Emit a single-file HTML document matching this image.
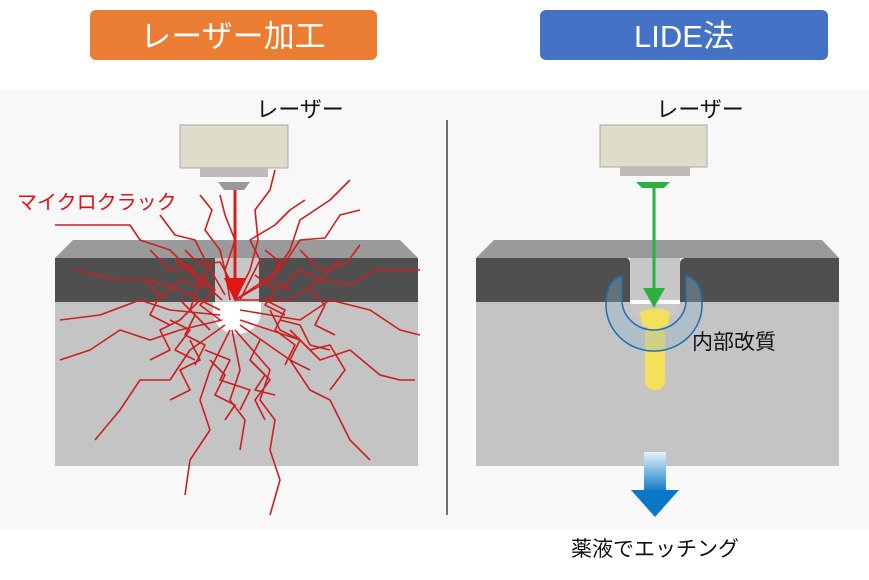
<!DOCTYPE html>
<html><head><meta charset="utf-8"><style>
body{margin:0;width:869px;height:580px;background:#fff;overflow:hidden;font-family:"Liberation Sans","Noto Sans CJK JP",sans-serif}
</style></head><body>
<svg width="869" height="580" viewBox="0 0 869 580" xmlns="http://www.w3.org/2000/svg" style="position:absolute;left:0;top:0">
<defs>
<linearGradient id="ba" x1="0" y1="0" x2="0" y2="1"><stop offset="0" stop-color="#e6f2fb"/><stop offset="1" stop-color="#0a78c8"/></linearGradient>
</defs>
<rect x="0" y="90" width="869" height="440" fill="#f8f8f8"/>
<!-- titles -->
<rect x="90" y="10" width="287" height="50" rx="6" fill="#ea7d32"/>
<text x="233" y="47" font-size="31" fill="#fff" text-anchor="middle">レーザー加工</text>
<rect x="540" y="10" width="288" height="50" rx="6" fill="#4472c4"/>
<text x="684" y="47" font-size="31" fill="#fff" text-anchor="middle">LIDE法</text>
<line x1="447" y1="120" x2="447" y2="515" stroke="#444" stroke-width="1.5"/>

<!-- LEFT block -->
<polygon points="73,240 400,240 418,258 55,258" fill="#9a9a9a"/>
<rect x="55" y="258" width="363" height="44" fill="#4f4f4f"/>
<rect x="55" y="302" width="363" height="164" fill="#c4c4c4"/>
<rect x="215" y="258" width="44" height="48" fill="#c8c8c8"/>
<path d="M213,302 L261,302 L261,312 A24,22 0 0 1 213,312 Z" fill="#fff"/>
<rect x="180" y="125" width="108" height="43" fill="#e0dccb" stroke="#aaa"/>
<rect x="200" y="168" width="68" height="9" fill="#bcbcbc"/>
<path d="M218,182 L250,182 L244,190 L224,190 Z" fill="#999"/>
<text x="300" y="117" font-size="22" fill="#111" text-anchor="middle">レーザー</text>
<text x="17" y="209" font-size="20" fill="#e01010">マイクロクラック</text>
<g fill="none" stroke="#cc1f1f" stroke-width="1.6" stroke-linejoin="round">
<polyline points="235,300 250,270 258,240 255,210 270,190 275,170"/>
<polyline points="235,300 270,280 290,250 300,220 330,200 350,180"/>
<polyline points="235,300 280,270 300,240 325,238 340,215 360,210"/>
<polyline points="235,300 290,300 320,280 350,285 375,270 420,270"/>
<polyline points="240,310 300,320 330,300 370,310 400,330 420,335"/>
<polyline points="240,320 300,340 320,360 350,350 380,375 400,380 415,380"/>
<polyline points="240,325 290,360 310,390 330,400 350,440 370,460"/>
<polyline points="235,330 270,370 260,400 275,420 270,450 280,480 270,515"/>
<polyline points="232,330 240,370 230,400 245,420 240,450"/>
<polyline points="230,330 210,370 200,400 210,430 190,460 185,495"/>
<polyline points="225,325 190,350 170,380 140,380 120,410 95,440"/>
<polyline points="222,320 180,330 150,340 120,330 90,350 60,360"/>
<polyline points="220,315 170,310 140,300 100,315 60,320"/>
<polyline points="220,310 180,290 150,280 120,280 95,275 75,270"/>
<polyline points="222,300 190,270 170,250 140,240 130,225 55,225"/>
<polyline points="225,295 205,260 195,240 175,235 160,215"/>
<polyline points="230,290 220,250 205,230 212,210 200,195"/>
<polyline points="230,300 225,270 235,240 225,215 220,195"/>
<polyline points="240,300 260,260 250,240 275,225 290,210 305,200"/>
<polyline points="200,300 180,320 160,330 170,350 150,360"/>
<polyline points="270,310 280,330 300,340 290,360 310,370"/>
<polyline points="190,340 200,360 180,370 190,390 170,400"/>
<polyline points="260,340 250,360 270,380 255,400 265,420"/>
<polyline points="160,300 180,280 200,285 210,265"/>
<polyline points="280,290 300,270 320,280 340,260"/>
<polyline points="205,350 230,360 220,380 250,390 240,410"/>
<polyline points="175,260 200,280 190,310 210,330"/>
<polyline points="290,330 310,350 330,345 345,370 330,390"/>
<polyline points="300,250 320,270 345,265 360,245"/>
<polyline points="150,250 170,270 190,265 205,290"/>
<polyline points="180,300 195,315 185,335 205,345 195,365"/>
<polyline points="265,300 285,310 275,330 295,345 285,365"/>
<polyline points="170,320 190,330 175,350 195,360"/>
<polyline points="280,320 300,325 310,345 330,350"/>
<polyline points="200,275 215,290 200,305 220,320"/>
<polyline points="255,275 275,290 265,305 285,315"/>
<polyline points="210,360 225,375 215,395 235,405 225,420"/>
<polyline points="250,360 265,375 255,390 275,395"/>
<polyline points="145,280 160,295 150,315 170,325"/>
<polyline points="310,290 325,305 315,325 335,335"/>
<polyline points="185,250 200,265 220,262 230,280"/>
<polyline points="265,250 280,262 270,280 290,290"/>
</g>
<line x1="235" y1="190" x2="235" y2="282" stroke="#d42020" stroke-width="3"/>
<polygon points="224,278 246,278 235,302" fill="#e01515"/>

<!-- RIGHT block -->
<polygon points="494,240 822,240 839,258 476,258" fill="#9a9a9a"/>
<path d="M476,258 L626,258 Q630,258 630,264 L630,302 L476,302 Z" fill="#4f4f4f"/>
<path d="M680,264 Q680,258 686,258 L839,258 L839,302 L680,302 Z" fill="#4f4f4f"/>
<rect x="476" y="302" width="363" height="164" fill="#c4c4c4"/>
<path d="M630,258 L630,300 A25,22 0 0 0 680,300 L680,258 Z" fill="#c8c8c8"/>
<rect x="630" y="300" width="50" height="4" fill="#fff"/>
<path d="M640,312 Q655,305 670,312 L668,325 Q655,330 642,325 Z" fill="#f4e05a"/>
<rect x="645" y="325" width="20" height="65" rx="9" fill="#f4e05a"/>
<path d="M622,276 Q606,280 606,305 A48,46 0 0 0 702,305 Q702,280 686,276 L686,300 A32,30 0 0 1 622,300 Z" fill="rgba(140,180,210,0.35)" stroke="#1d6fb0" stroke-width="1.5"/>
<rect x="600" y="125" width="107" height="42" fill="#e0dccb" stroke="#aaa"/>
<rect x="620" y="167" width="70" height="9" fill="#bcbcbc"/>
<path d="M636,182 L670,182 L664,188 L642,188 Z" fill="#2db040"/>
<line x1="654" y1="186" x2="654" y2="290" stroke="#2db040" stroke-width="3"/>
<polygon points="643,288 665,288 654,308" fill="#2db040"/>
<text x="700" y="117" font-size="22" fill="#111" text-anchor="middle">レーザー</text>
<text x="692" y="349" font-size="21" fill="#111">内部改質</text>
<rect x="644" y="452" width="22" height="40" fill="url(#ba)"/>
<polygon points="631,490 679,490 655,517" fill="#0a78c8"/>
<text x="655" y="556" font-size="21" fill="#111" text-anchor="middle">薬液でエッチング</text>
</svg>
</body></html>
